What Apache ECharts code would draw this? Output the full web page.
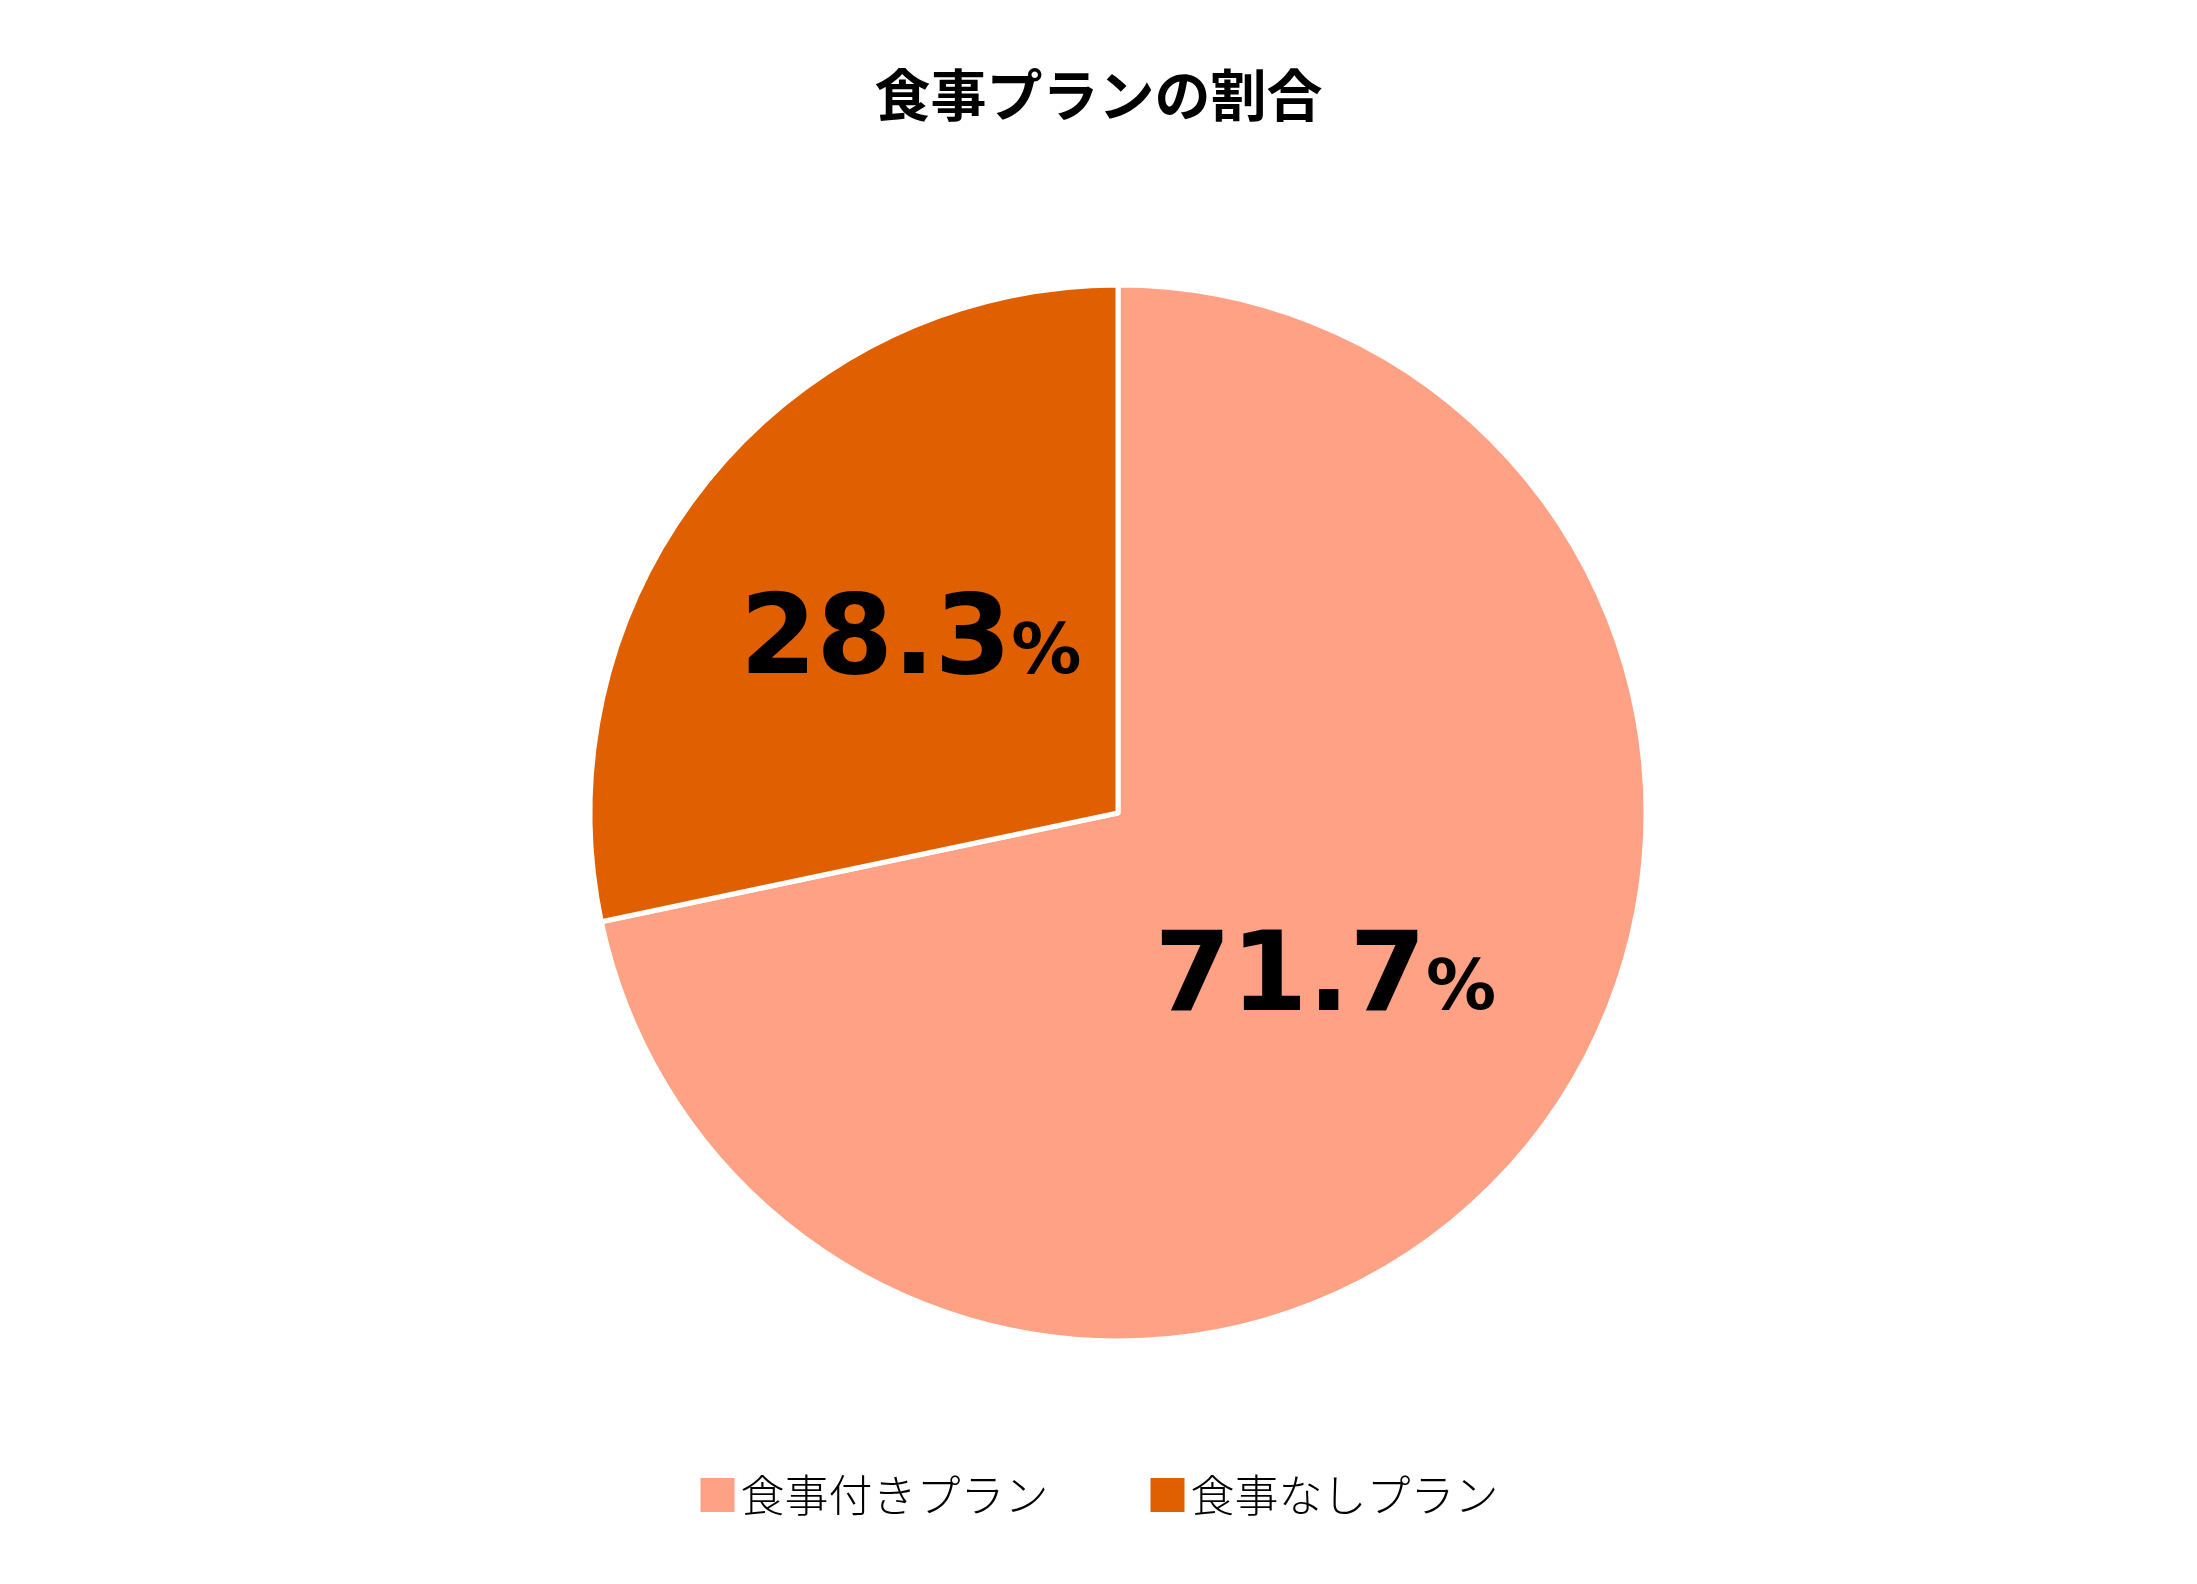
<!DOCTYPE html>
<html><head><meta charset="utf-8">
<script src="https://cdn.jsdelivr.net/npm/echarts@6/dist/echarts.min.js"></script>
<style>html,body{margin:0;padding:0;background:#fff}#c{width:2197px;height:1584px}</style>
</head><body><div id="c"></div>
<script>
const categories = ['食事付きプラン', '食事なしプラン'];
const values = [71.7, 28.3];
const colors = ['#FFA184', '#E05F00'];
const chart = echarts.init(document.getElementById('c'));
chart.setOption({
  title: {text: '食事プランの割合', left: 'center', top: 62,
    textStyle: {fontSize: 56, fontWeight: 'bold', color: '#000', fontFamily: 'Noto Sans CJK JP'}},
  legend: {bottom: 62, left: 'center', itemWidth: 36, itemHeight: 36, itemGap: 100, icon: 'rect',
    textStyle: {fontSize: 44, color: '#000', fontFamily: 'Noto Sans CJK JP', fontWeight: 300}},
  color: colors,
  series: [{
    type: 'pie', center: [1118, 813], radius: 528, startAngle: 90, clockwise: true,
    itemStyle: {borderColor: '#fff', borderWidth: 5},
    label: {position: 'inside', formatter: p => '{a|' + p.value.toFixed(1) + '}{b|%}',
      rich: {a: {fontSize: 110, fontWeight: 'bold', color: '#000', fontFamily: 'DejaVu Sans'},
             b: {fontSize: 70, fontWeight: 'bold', color: '#000', fontFamily: 'DejaVu Sans', padding: [20,0,0,0]}}},
    labelLine: {show: false},
    data: categories.map((n, i) => ({name: n, value: values[i]}))
  }]
});
</script></body></html>
